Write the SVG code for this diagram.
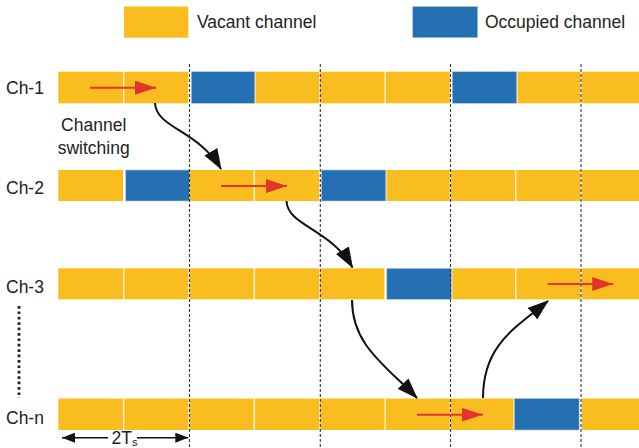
<svg xmlns="http://www.w3.org/2000/svg" width="639" height="448" viewBox="0 0 639 448">
<defs>
<style>
.vac{fill:#F9BD20}
.occ{fill:#2470B3;stroke:#A9C8E6;stroke-width:0.6}
.lbl{font-family:"Liberation Sans",Arial,sans-serif;font-size:17.5px;fill:#222}
.grid{stroke:#333;stroke-width:1.1;stroke-dasharray:3,2;fill:none}
.red{stroke:#E3342A;stroke-width:2;fill:none;marker-end:url(#rh)}
.sw{stroke:#111;stroke-width:2;fill:none;marker-end:url(#bh)}
.dim{stroke:#111;stroke-width:1.6;fill:none}
</style>
<marker id="rh" markerUnits="userSpaceOnUse" markerWidth="21" markerHeight="14" refX="21" refY="7" orient="auto"><path d="M0,0 L21,7 L0,14 z" fill="#E3342A"/></marker>
<marker id="bh" markerUnits="userSpaceOnUse" markerWidth="21" markerHeight="15" refX="20" refY="7.5" orient="auto"><path d="M0,0 L21,7.5 L0,15 z" fill="#111"/></marker>
<marker id="dh" markerUnits="userSpaceOnUse" markerWidth="13" markerHeight="10" refX="13" refY="5" orient="auto-start-reverse"><path d="M0,0 L13,5 L0,10 z" fill="#111"/></marker>
</defs>
<rect width="639" height="448" fill="#fff"/>

<g id="legend-vacant">
<rect class="vac" x="124" y="6.5" width="64.3" height="31.2"/>
<text class="lbl" x="197" y="27.5">Vacant channel</text>
</g>
<g id="legend-occupied">
<rect class="occ" x="412.7" y="6.5" width="65" height="31.2"/>
<text class="lbl" x="485" y="27.5">Occupied channel</text>
</g>

<g id="ch1">
<text class="lbl" x="6" y="93.5">Ch-1</text>
<rect class="vac" x="58.3" y="71.7" width="64.8" height="31.6"/>
<rect class="vac" x="124.2" y="71.7" width="64.1" height="31.6"/>
<rect class="occ" x="191.3" y="71.7" width="63.5" height="31.6"/>
<rect class="vac" x="255.5" y="71.7" width="63.6" height="31.6"/>
<rect class="vac" x="320.3" y="71.7" width="64.2" height="31.6"/>
<rect class="vac" x="385.6" y="71.7" width="64.2" height="31.6"/>
<rect class="occ" x="452.3" y="71.7" width="64.4" height="31.6"/>
<rect class="vac" x="517.5" y="71.7" width="63.0" height="31.6"/>
<rect class="vac" x="581.7" y="71.7" width="58" height="31.6"/>
</g>

<g id="ch2">
<text class="lbl" x="6" y="193.5">Ch-2</text>
<rect class="vac" x="58.3" y="170" width="64.8" height="31"/>
<rect class="occ" x="125.7" y="170" width="63.6" height="31"/>
<rect class="vac" x="189.6" y="170" width="64.1" height="31"/>
<rect class="vac" x="254.9" y="170" width="64.2" height="31"/>
<rect class="occ" x="321.5" y="170" width="64.3" height="31"/>
<rect class="vac" x="386.5" y="170" width="63.3" height="31"/>
<rect class="vac" x="451" y="170" width="64.2" height="31"/>
<rect class="vac" x="516.3" y="170" width="64.2" height="31"/>
<rect class="vac" x="581.7" y="170" width="58" height="31"/>
</g>

<g id="ch3">
<text class="lbl" x="6" y="292.5">Ch-3</text>
<rect class="vac" x="58.3" y="268.3" width="64.8" height="31"/>
<rect class="vac" x="124.2" y="268.3" width="64.1" height="31"/>
<rect class="vac" x="189.6" y="268.3" width="64.1" height="31"/>
<rect class="vac" x="254.9" y="268.3" width="64.2" height="31"/>
<rect class="vac" x="320.3" y="268.3" width="64.2" height="31"/>
<rect class="occ" x="386.8" y="268.3" width="64.6" height="31"/>
<rect class="vac" x="452.3" y="268.3" width="62.9" height="31"/>
<rect class="vac" x="516.3" y="268.3" width="64.2" height="31"/>
<rect class="vac" x="581.7" y="268.3" width="58" height="31"/>
</g>

<g id="chn">
<text class="lbl" x="6" y="424">Ch-n</text>
<rect class="vac" x="58.3" y="398.5" width="64.8" height="31.5"/>
<rect class="vac" x="124.2" y="398.5" width="64.1" height="31.5"/>
<rect class="vac" x="189.6" y="398.5" width="64.1" height="31.5"/>
<rect class="vac" x="254.9" y="398.5" width="64.2" height="31.5"/>
<rect class="vac" x="320.3" y="398.5" width="64.2" height="31.5"/>
<rect class="vac" x="385.6" y="398.5" width="64.2" height="31.5"/>
<rect class="vac" x="451" y="398.5" width="62.5" height="31.5"/>
<rect class="occ" x="514.3" y="398.5" width="64.8" height="31.5"/>
<rect class="vac" x="581.7" y="398.5" width="58" height="31.5"/>
</g>

<g id="ellipsis">
<line x1="19" y1="306" x2="19" y2="398" stroke="#222" stroke-width="2.8" stroke-dasharray="2.7,2.7"/>
</g>

<g id="grid">
<line class="grid" x1="189.5" y1="64" x2="189.5" y2="448"/>
<line class="grid" x1="320.3" y1="64" x2="320.3" y2="448"/>
<line class="grid" x1="450.5" y1="64" x2="450.5" y2="448"/>
<line class="grid" x1="581" y1="64" x2="581" y2="448"/>
</g>

<g id="switch-label">
<text class="lbl" x="93.7" y="131" text-anchor="middle">Channel</text>
<text class="lbl" x="93.7" y="153.5" text-anchor="middle">switching</text>
</g>

<g id="connectors">
<line class="red" x1="90" y1="87.7" x2="156" y2="87.7"/>
<line class="red" x1="221" y1="186" x2="287" y2="186"/>
<line class="red" x1="547.7" y1="284" x2="613.3" y2="284"/>
<line class="red" x1="417" y1="414.7" x2="482.7" y2="414.7"/>
<path class="sw" d="M155,103 C156,128 198,130 221,169"/>
<path class="sw" d="M286.5,201 C287.5,226 329.5,228 352.5,267.5"/>
<path class="sw" d="M352,300 C352,345 385,365 417,398"/>
<path class="sw" d="M483,398 C483,345 515,328 548,301"/>
</g>

<g id="dimension">
<line class="dim" x1="108" y1="437.7" x2="62" y2="437.7" marker-end="url(#dh)"/>
<line class="dim" x1="137" y1="437.7" x2="188.3" y2="437.7" marker-end="url(#dh)"/>
<text class="lbl" x="111.5" y="443.5" font-size="16">2T<tspan font-size="11" dy="2">s</tspan></text>
</g>
</svg>
